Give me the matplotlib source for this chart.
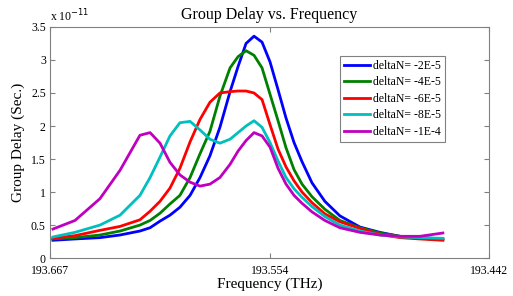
import numpy as np
import matplotlib
matplotlib.use("Agg")
import matplotlib.pyplot as plt
from matplotlib.ticker import FormatStrFormatter

plt.rcParams['font.family'] = ['Liberation Serif', 'DejaVu Serif']

# frequency samples (THz)
freq = [193.6655, 193.6542, 193.6414, 193.6311, 193.6209, 193.6157, 193.6106,
        193.6055, 193.6004, 193.5952, 193.5901, 193.5850, 193.5799, 193.5747,
        193.5706, 193.5665, 193.5624, 193.5583, 193.5542, 193.5501, 193.5460,
        193.5419, 193.5378, 193.5327, 193.5261, 193.5184, 193.5081, 193.4979,
        193.4876, 193.4774, 193.4656]

# group delay in units of 1e-11 s
gd_2e5 = [0.27, 0.29, 0.31, 0.35, 0.41, 0.46, 0.56, 0.65, 0.77, 0.95, 1.22,
          1.55, 1.98, 2.52, 2.90, 3.25, 3.36, 3.27, 2.97, 2.55, 2.12, 1.75,
          1.46, 1.14, 0.86, 0.64, 0.47, 0.39, 0.33, 0.31, 0.29]
gd_4e5 = [0.29, 0.31, 0.35, 0.41, 0.50, 0.57, 0.68, 0.82, 0.95, 1.22, 1.58,
          1.92, 2.45, 2.88, 3.05, 3.14, 3.07, 2.88, 2.48, 2.08, 1.67, 1.34,
          1.12, 0.93, 0.74, 0.57, 0.46, 0.38, 0.33, 0.30, 0.28]
gd_6e5 = [0.30, 0.34, 0.42, 0.48, 0.58, 0.71, 0.86, 1.06, 1.36, 1.76, 2.10,
          2.36, 2.50, 2.52, 2.53, 2.53, 2.50, 2.40, 2.02, 1.65, 1.38, 1.17,
          1.00, 0.84, 0.67, 0.55, 0.45, 0.36, 0.31, 0.29, 0.27]
gd_8e5 = [0.32, 0.39, 0.50, 0.65, 0.95, 1.22, 1.53, 1.85, 2.05, 2.07, 1.94,
          1.80, 1.74, 1.80, 1.90, 2.00, 2.08, 1.98, 1.75, 1.47, 1.22, 1.05,
          0.92, 0.78, 0.63, 0.50, 0.41, 0.35, 0.32, 0.31, 0.30]
gd_1e4 = [0.44, 0.57, 0.90, 1.33, 1.86, 1.90, 1.74, 1.45, 1.26, 1.15, 1.09,
          1.12, 1.22, 1.42, 1.62, 1.78, 1.90, 1.85, 1.68, 1.36, 1.12, 0.95,
          0.83, 0.70, 0.57, 0.46, 0.39, 0.35, 0.33, 0.33, 0.38]

series = [gd_2e5, gd_4e5, gd_6e5, gd_8e5, gd_1e4]
labels = ["deltaN= -2E-5", "deltaN= -4E-5", "deltaN= -6E-5", "deltaN= -8E-5", "deltaN= -1E-4"]
colors = ["#0000ff", "#008000", "#ff0000", "#00bfbf", "#bf00bf"]

xticks = [193.667, 193.554, 193.442]
yticks = [0, 0.5, 1, 1.5, 2, 2.5, 3, 3.5]

fig = plt.figure(figsize=(5.13, 2.96), dpi=100)
ax = fig.add_axes([0.0975, 0.128, 0.8555, 0.781])

for ys, lab, c in zip(series, labels, colors):
  ax.plot(freq, ys, color=c, lw=2.0, label=lab, solid_joinstyle='round')

ax.set_xlim(xticks[0], xticks[-1])
ax.set_ylim(0, 3.5)
ax.set_xticks(xticks)
ax.set_xticklabels([f"{t:.3f}" for t in xticks])
ax.set_yticks(yticks)
ax.yaxis.set_major_formatter(FormatStrFormatter('%g'))
ax.tick_params(direction='in', top=True, right=True, labelsize=8.5, length=3.5,
               color='#808080', pad=2)
ax.tick_params(axis='x', pad=5)
ax.tick_params(axis='y', pad=3)
for s in ax.spines.values():
  s.set_color('#808080')

ax.set_title("Group Delay vs. Frequency", fontsize=11.5, pad=6)
ax.set_xlabel("Frequency (THz)", fontsize=11, labelpad=0)
ax.set_ylabel("Group Delay (Sec.)", fontsize=11, labelpad=4)
ax.text(0.0, 1.012, r"x 10$^{-11}$", transform=ax.transAxes, fontsize=8.5,
        ha='left', va='bottom')

leg = ax.legend(loc='upper left', bbox_to_anchor=(0.66, 0.875), fontsize=8.5,
                fancybox=False, framealpha=1, edgecolor='#808080',
                handlelength=2.2, handletextpad=0.3, labelspacing=0.38,
                borderpad=0.35, borderaxespad=0)
leg.get_frame().set_linewidth(0.8)

fig.savefig("out.png", dpi=100)
